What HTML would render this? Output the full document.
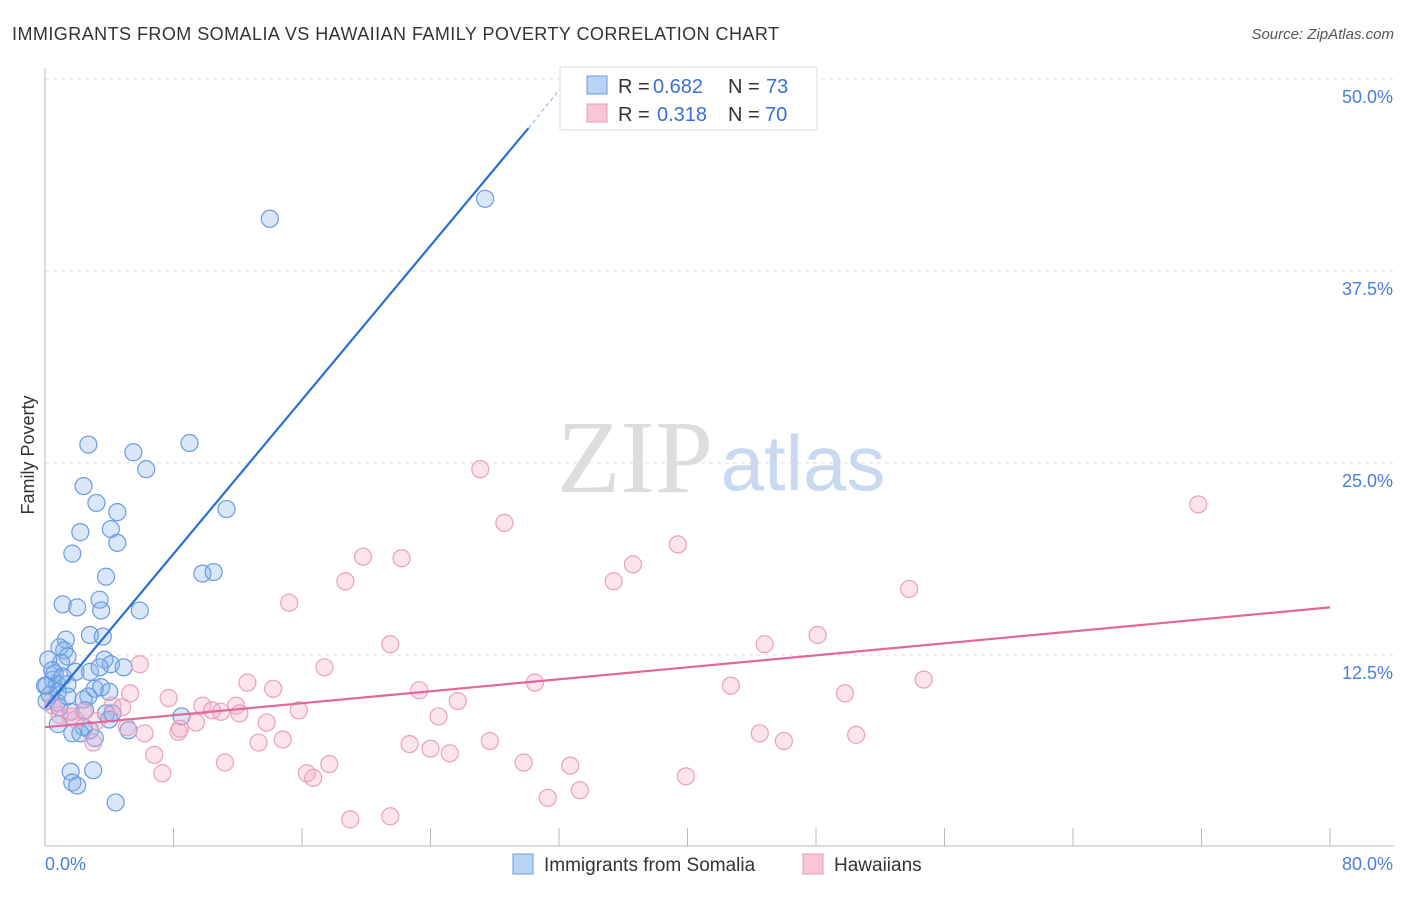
<!DOCTYPE html>
<html><head><meta charset="utf-8"><style>
body{margin:0;background:#fff;font-family:"Liberation Sans",sans-serif;}
</style></head><body>
<svg width="1406" height="892" xmlns="http://www.w3.org/2000/svg" font-family="Liberation Sans, sans-serif">
<text x="12" y="40" font-size="18" fill="#333" textLength="767" lengthAdjust="spacing">IMMIGRANTS FROM SOMALIA VS HAWAIIAN FAMILY POVERTY CORRELATION CHART</text>
<text x="1394" y="39" font-size="15" fill="#555" text-anchor="end" font-style="italic">Source: ZipAtlas.com</text>
<g id="grid"></g>
<g id="axes"></g>
<text x="635" y="492" font-size="104" fill="#ddd" font-family="Liberation Serif, serif" text-anchor="middle">ZIP</text>
<text x="803" y="490" font-size="78" fill="#c9daf0" text-anchor="middle">atlas</text>
<g id="pts"></g>
<g id="lines"></g>
<text x="34" y="455" font-size="18" fill="#333" text-anchor="middle" transform="rotate(-90 34 455)">Family Poverty</text>
<g>
<rect x="560" y="67" width="257" height="63" fill="#fff" stroke="#ddd"/>
<rect x="587" y="76" width="20" height="18" fill="#b8d3f5" stroke="#6a9be0"/>
<rect x="587" y="104" width="20" height="18" fill="#f9c6d6" stroke="#e89ab5"/>
<text x="618" y="93" font-size="20" fill="#333">R =</text>
<text x="653" y="93" font-size="20" fill="#3b6fd4">0.682</text>
<text x="728" y="93" font-size="20" fill="#333">N =</text>
<text x="766" y="93" font-size="20" fill="#3b6fd4">73</text>
<text x="618" y="121" font-size="20" fill="#333">R =</text>
<text x="657" y="121" font-size="20" fill="#3b6fd4">0.318</text>
<text x="728" y="121" font-size="20" fill="#333">N =</text>
<text x="765" y="121" font-size="20" fill="#3b6fd4">70</text>
</g>
<g>
<rect x="513" y="854" width="20" height="20" fill="#b8d3f5" stroke="#6a9be0"/>
<text x="544" y="871" font-size="19" fill="#333">Immigrants from Somalia</text>
<rect x="803" y="854" width="20" height="20" fill="#f9c6d6" stroke="#e89ab5"/>
<text x="834" y="871" font-size="19" fill="#333">Hawaiians</text>
</g>
</svg>
<script>
const yTicks=[12.5,25,37.5,50];
const yTickLabels=["12.5%","25.0%","37.5%","50.0%"];
const xTickVals=[0,8,16,24,32,40,48,56,64,72,80];
const blueX=[14.0,27.4,2.7,5.5,9.0,6.3,2.4,3.2,11.3,4.5,4.1,2.2,4.5,1.7,3.8,9.8,10.5,1.1,2.0,3.4,3.5,5.9,2.8,3.6,1.3,0.9,1.2,1.4,1.0,3.7,4.1,0.2,4.9,1.9,2.8,3.4,0.6,0.5,0.75,1.4,0.1,3.1,3.5,4.0,0.8,2.7,2.4,0.1,0.75,1.6,3.8,4.0,8.5,0.8,2.4,2.8,1.7,2.2,3.1,5.2,1.6,3.0,1.7,2.0,4.4,0.3,0.9,1.4,0.45,0.0,2.5,1.1,4.2];
const blueY=[40.9,42.2,26.2,25.7,26.3,24.6,23.5,22.4,22.0,21.8,20.7,20.5,19.8,19.1,17.6,17.8,17.9,15.8,15.6,16.1,15.4,15.4,13.8,13.7,13.5,13.0,12.8,12.4,12.0,12.2,11.9,12.2,11.7,11.4,11.4,11.7,11.3,10.9,10.6,10.6,10.5,10.3,10.4,10.1,10.1,9.8,9.6,9.5,9.4,8.8,8.7,8.3,8.5,8.0,7.8,7.6,7.4,7.4,7.1,7.6,4.9,5.0,4.2,4.0,2.9,9.9,9.1,9.8,11.5,10.5,8.9,11.1,8.7];
const pinkX=[27.1,28.6,71.8,39.4,19.8,22.2,36.6,18.7,35.4,53.8,15.2,21.5,48.1,44.8,5.9,17.4,12.6,14.2,30.5,54.7,42.7,23.3,5.3,7.7,25.7,49.8,9.8,11.9,10.4,12.1,10.96,15.8,4.2,4.8,2.4,1.6,3.2,9.4,13.8,24.5,8.3,6.2,5.1,44.5,50.5,46.0,13.3,14.8,22.7,24.0,25.2,27.7,3.0,6.8,11.2,29.8,32.7,17.7,16.3,16.7,7.3,39.9,31.3,33.3,19.0,21.5,0.5,0.9,1.9,8.4];
const pinkY=[24.6,21.1,22.3,19.7,18.9,18.8,18.4,17.3,17.3,16.8,15.9,13.2,13.8,13.2,11.9,11.7,10.7,10.3,10.7,10.9,10.5,10.2,10.0,9.7,9.5,10.0,9.2,9.2,8.9,8.7,8.8,8.9,9.2,9.1,8.8,8.5,8.2,8.1,8.1,8.5,7.5,7.4,7.8,7.4,7.3,6.9,6.8,7.0,6.7,6.4,6.1,6.9,6.8,6.0,5.5,5.5,5.3,5.4,4.8,4.5,4.8,4.6,3.2,3.7,1.8,2.0,9.2,8.6,8.3,7.7];
const blueTrend=[[0,9.05],[30.1,46.8]];
const blueDash=[[30.1,46.8],[32.1,49.4]];
const pinkTrend=[[0,7.8],[80,15.6]];
const NS='http://www.w3.org/2000/svg';
const X=v=>45+v/80*1285, Y=v=>847-v/12.5*192;
function mk(t,a,p){const e=document.createElementNS(NS,t);for(const k in a)e.setAttribute(k,a[k]);p.appendChild(e);return e;}
const grid=document.getElementById('grid'),axes=document.getElementById('axes');
yTicks.forEach((t,i)=>{
 const g=mk('line',{x1:45,x2:1394,y1:Y(t),y2:Y(t),stroke:'#ddd','stroke-dasharray':'4,4'},grid);
 
 
 const l=mk('text',{x:1393,y:Y(t)+24,'font-size':18,fill:'#4a7fd6','text-anchor':'end'},axes);
 l.textContent=yTickLabels[i];
 
 
});
mk('line',{x1:45,x2:45,y1:68,y2:846,stroke:'#bbb'},axes);
mk('line',{x1:45,x2:1394,y1:846,y2:846,stroke:'#bbb'},axes);
xTickVals.forEach(v=>{const t=mk('line',{x1:X(v),x2:X(v),y1:828,y2:846,stroke:'#bbb'},axes);
 
 });
let a=mk('text',{x:45,y:870,'font-size':18,fill:'#4a7fd6'},axes);a.textContent='0.0%';

a=mk('text',{x:1393,y:870,'font-size':18,fill:'#4a7fd6','text-anchor':'end'},axes);a.textContent='80.0%';

const pts=document.getElementById('pts');
blueX.forEach((v,i)=>{const c=mk('circle',{cx:X(v),cy:Y(blueY[i]),r:8.5,fill:'rgba(130,175,235,0.3)',stroke:'#6a9be0','stroke-width':1.2},pts);
 
 });
pinkX.forEach((v,i)=>{const c=mk('circle',{cx:X(v),cy:Y(pinkY[i]),r:8.5,fill:'rgba(245,165,195,0.3)',stroke:'#eba0ba','stroke-width':1.2},pts);
 
 });
const lines=document.getElementById('lines');
let l=mk('line',{x1:X(blueTrend[0][0]),y1:Y(blueTrend[0][1]),x2:X(blueTrend[1][0]),y2:Y(blueTrend[1][1]),stroke:'#2a6fd8','stroke-width':2.2},lines);

l=mk('line',{x1:X(blueDash[0][0]),y1:Y(blueDash[0][1]),x2:X(blueDash[1][0]),y2:Y(blueDash[1][1]),stroke:'#9bbbe8','stroke-width':1.2,'stroke-dasharray':'4,3'},lines);

l=mk('line',{x1:X(pinkTrend[0][0]),y1:Y(pinkTrend[0][1]),x2:X(pinkTrend[1][0]),y2:Y(pinkTrend[1][1]),stroke:'#e0689a','stroke-width':2.2},lines);

</script>
</body></html>
